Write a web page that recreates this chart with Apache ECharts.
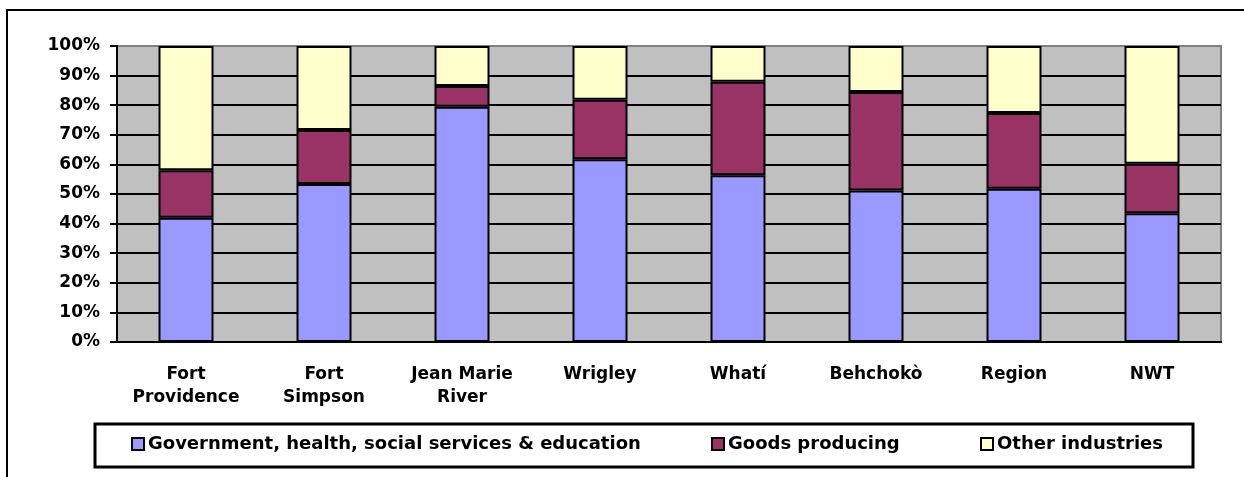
<!DOCTYPE html>
<html>
<head>
<meta charset="utf-8">
<script src="https://cdn.jsdelivr.net/npm/echarts@6/dist/echarts.min.js"></script>
<style>
  html, body { margin: 0; padding: 0; background: #fff; }
  #chart { width: 1244px; height: 477px; }
</style>
</head>
<body>
<div id="chart"></div>
<script>
var categories = ['Fort\nProvidence', 'Fort\nSimpson', 'Jean Marie\nRiver', 'Wrigley', 'Whatí', 'Behchokò', 'Region', 'NWT'];
var govValues = [42, 53.4, 79.5, 61.7, 56.3, 51.2, 51.8, 43.5];
var goodsValues = [16, 18.2, 7, 20.1, 31.6, 33.3, 25.6, 16.7];
var otherValues = [42, 28.4, 13.5, 18.2, 12.1, 15.5, 22.6, 39.8];
var seriesNames = ['Government, health, social services & education', 'Goods producing', 'Other industries'];

var font = '"DejaVu Sans", Arial, sans-serif';
var myChart = echarts.init(document.getElementById('chart'));

function legendItem(name, left) {
    return {
        data: [name],
        left: left,
        top: 435,
        padding: 0,
        icon: 'rect',
        itemWidth: 12,
        itemHeight: 12,
        itemGap: 0,
        itemStyle: { borderColor: '#000', borderWidth: 2 },
        textStyle: { fontFamily: font, fontWeight: 'bold', fontSize: 18, color: '#000', padding: [0, 0, 0, -1] }
    };
}

function barSeries(name, values, color) {
    return {
        name: name,
        type: 'bar',
        stack: 'total',
        barWidth: 55,
        data: values,
        itemStyle: { color: color, borderColor: '#000', borderWidth: 2 }
    };
}

var option = {
    animation: false,
    color: ['#9999FF', '#993366', '#FFFFCC'],
    grid: {
        left: 117,
        top: 46,
        right: 23,
        bottom: 135,
        show: true,
        backgroundColor: '#C0C0C0',
        borderColor: '#808080',
        borderWidth: 2
    },
    legend: [
        legendItem(seriesNames[0], 131),
        legendItem(seriesNames[1], 711),
        legendItem(seriesNames[2], 980)
    ],
    xAxis: {
        type: 'category',
        data: categories,
        axisLine: { lineStyle: { color: '#000', width: 2 } },
        axisTick: { length: 6, lineStyle: { color: '#000', width: 2 } },
        axisLabel: {
            interval: 0,
            margin: 21,
            lineHeight: 23,
            fontFamily: font,
            fontWeight: 'bold',
            fontSize: 17,
            color: '#000'
        }
    },
    yAxis: {
        type: 'value',
        min: 0,
        max: 100,
        interval: 10,
        axisLine: { show: true, lineStyle: { color: '#000', width: 2 } },
        axisTick: { show: true, length: 7, lineStyle: { color: '#000', width: 2 } },
        splitLine: { show: true, showMaxLine: false, lineStyle: { color: '#000', width: 2 } },
        axisLabel: {
            formatter: '{value}%',
            margin: 17,
            fontFamily: font,
            fontWeight: 'bold',
            fontSize: 17,
            color: '#000'
        }
    },
    graphic: [
        {
            type: 'rect',
            silent: true,
            z: -1,
            shape: { x: 7, y: 10, width: 1300, height: 600 },
            style: { fill: 'none', stroke: '#000', lineWidth: 2 }
        },
        {
            type: 'rect',
            silent: true,
            z: -1,
            shape: { x: 95, y: 424, width: 1098, height: 43 },
            style: { fill: 'none', stroke: '#000', lineWidth: 3 }
        }
    ],
    series: [
        barSeries(seriesNames[0], govValues),
        barSeries(seriesNames[1], goodsValues),
        barSeries(seriesNames[2], otherValues)
    ]
};

myChart.setOption(option);
</script>
</body>
</html>
